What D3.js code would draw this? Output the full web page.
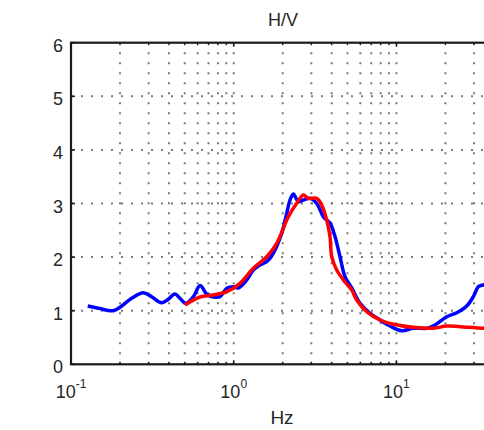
<!DOCTYPE html>
<html>
<head>
<meta charset="utf-8">
<script src="https://cdn.jsdelivr.net/npm/d3@7"></script>
<style>
html,body{margin:0;padding:0;background:#fff;}
svg{display:block;}
text{font-family:"Liberation Sans",Arial,sans-serif;fill:#262626;}
</style>
</head>
<body>
<script>
// ---- data ----
const title = "H/V";
const xLabel = "Hz";
const yTicks = [0, 1, 2, 3, 4, 5, 6];
const xMajorExps = [-1, 0, 1];
const xMinorTicks = [0.2,0.3,0.4,0.5,0.6,0.7,0.8,0.9,2,3,4,5,6,7,8,9,20,30];

const blueFreq = [0.1267,0.1472,0.182,0.2,0.236,0.278,0.313,0.360,0.396,0.435,0.468,0.507,0.565,0.621,0.682,0.750,0.824,0.906,0.994,1.067,1.202,1.319,1.451,1.595,1.751,1.972,2.117,2.218,2.325,2.495,2.678,2.944,3.236,3.554,3.907,4.195,4.501,4.83,5.313,5.975,6.88,7.93,9.13,10.78,12.70,15.36,17.27,20.38,23.48,27.04,29.70,31.87,34.2,37.6];
const blueHV   = [1.088,1.045,1.00,1.063,1.231,1.336,1.261,1.149,1.213,1.312,1.231,1.138,1.261,1.47,1.31,1.256,1.261,1.418,1.448,1.424,1.573,1.759,1.853,1.914,2.071,2.444,2.817,3.065,3.177,3.034,3.065,3.097,3.004,2.754,2.631,2.381,2.007,1.634,1.424,1.138,0.951,0.826,0.715,0.627,0.672,0.672,0.733,0.888,0.963,1.088,1.261,1.448,1.48,1.5];

const redFreq = [0.502,0.621,0.750,0.906,1.093,1.319,1.595,1.838,2.166,2.439,2.678,2.874,3.236,3.474,3.729,3.907,4.003,4.295,4.83,5.313,5.70,6.57,7.93,9.57,12.70,16.86,20.38,24.6,34.2,40];
const redHV   = [1.106,1.256,1.293,1.354,1.511,1.791,2.007,2.257,2.754,3.004,3.159,3.097,3.097,2.972,2.692,2.381,2.007,1.759,1.535,1.386,1.2,0.981,0.826,0.746,0.69,0.672,0.715,0.701,0.672,0.67];

// ---- layout ----
const W = 484, H = 430;
const mLeft = 71, mRight = 494.4, mTop = 42.7, mBottom = 364.3;

const svg = d3.select("body").append("svg").attr("width", W).attr("height", H);

const x = d3.scaleLog().domain([0.1, 40]).range([mLeft, mRight]);
const y = d3.scaleLinear().domain([0, 6]).range([mBottom, mTop]);

svg.append("defs").append("clipPath").attr("id","clip")
  .append("rect").attr("x", mLeft).attr("y", mTop).attr("width", mRight-mLeft).attr("height", mBottom-mTop);

// grid
const gridColor = "#7a7a7a";
const grid = svg.append("g");
const vGrid = xMinorTicks.concat([1, 10]);
grid.selectAll("line.v").data(vGrid).join("line")
  .attr("class","v")
  .attr("x1", d => x(d)).attr("x2", d => x(d))
  .attr("y1", mBottom).attr("y2", mTop)
  .attr("stroke", gridColor).attr("stroke-width", 2)
  .attr("stroke-dasharray", "2,8");
grid.selectAll("line.h").data(yTicks.filter(d => d > 0 && d < 6)).join("line")
  .attr("class","h")
  .attr("x1", mLeft).attr("x2", mRight)
  .attr("y1", d => y(d)).attr("y2", d => y(d))
  .attr("stroke", gridColor).attr("stroke-width", 2)
  .attr("stroke-dasharray", "2,8");

// lines
const line = d3.line().x(d => x(d[0])).y(d => y(d[1])).curve(d3.curveCatmullRom.alpha(0.5));
const plot = svg.append("g").attr("clip-path", "url(#clip)");
plot.append("path").datum(blueFreq.map((f,i) => [f, blueHV[i]]))
  .attr("d", line).attr("fill", "none").attr("stroke", "#0000ff")
  .attr("stroke-width", 3.5).attr("stroke-linejoin", "round");
plot.append("path").datum(redFreq.map((f,i) => [f, redHV[i]]))
  .attr("d", line).attr("fill", "none").attr("stroke", "#ff0000")
  .attr("stroke-width", 3.5).attr("stroke-linejoin", "round");

// axes box
const axisColor = "#1a1a1a";
svg.append("rect").attr("x", mLeft).attr("y", mTop).attr("width", mRight-mLeft).attr("height", mBottom-mTop)
  .attr("fill", "none").attr("stroke", axisColor).attr("stroke-width", 2.2);

// ticks
const tk = svg.append("g").attr("stroke", axisColor);
yTicks.forEach(v => {
  tk.append("line").attr("x1", mLeft).attr("x2", mLeft+4).attr("y1", y(v)).attr("y2", y(v)).attr("stroke-width", 1.6);
});
xMajorExps.forEach(e => {
  const px = x(Math.pow(10, e));
  tk.append("line").attr("x1", px).attr("x2", px).attr("y1", mBottom).attr("y2", mBottom-4).attr("stroke-width", 1.6);
  tk.append("line").attr("x1", px).attr("x2", px).attr("y1", mTop).attr("y2", mTop+4).attr("stroke-width", 1.6);
});
xMinorTicks.forEach(v => {
  tk.append("line").attr("x1", x(v)).attr("x2", x(v)).attr("y1", mBottom).attr("y2", mBottom-2.5).attr("stroke-width", 1.2);
  tk.append("line").attr("x1", x(v)).attr("x2", x(v)).attr("y1", mTop).attr("y2", mTop+2.5).attr("stroke-width", 1.2);
});

// y labels
svg.append("g").selectAll("text").data(yTicks).join("text")
  .attr("x", mLeft - 8).attr("y", d => y(d) + 3)
  .attr("text-anchor", "end").attr("dominant-baseline", "central")
  .attr("font-size", 18).text(d => d);

// x labels 10^e
xMajorExps.forEach(e => {
  const t = svg.append("text").attr("x", x(Math.pow(10, e))).attr("y", 398)
    .attr("text-anchor", "middle").attr("font-size", 18);
  t.append("tspan").text("10");
  t.append("tspan").attr("font-size", 12).attr("dy", -10).text(String(e));
});

// title and x label
svg.append("text").attr("x", 283).attr("y", 26).attr("text-anchor", "middle")
  .attr("font-size", 18).text(title);
svg.append("text").attr("x", 282).attr("y", 424).attr("text-anchor", "middle")
  .attr("font-size", 19).text(xLabel);
</script>
</body>
</html>
